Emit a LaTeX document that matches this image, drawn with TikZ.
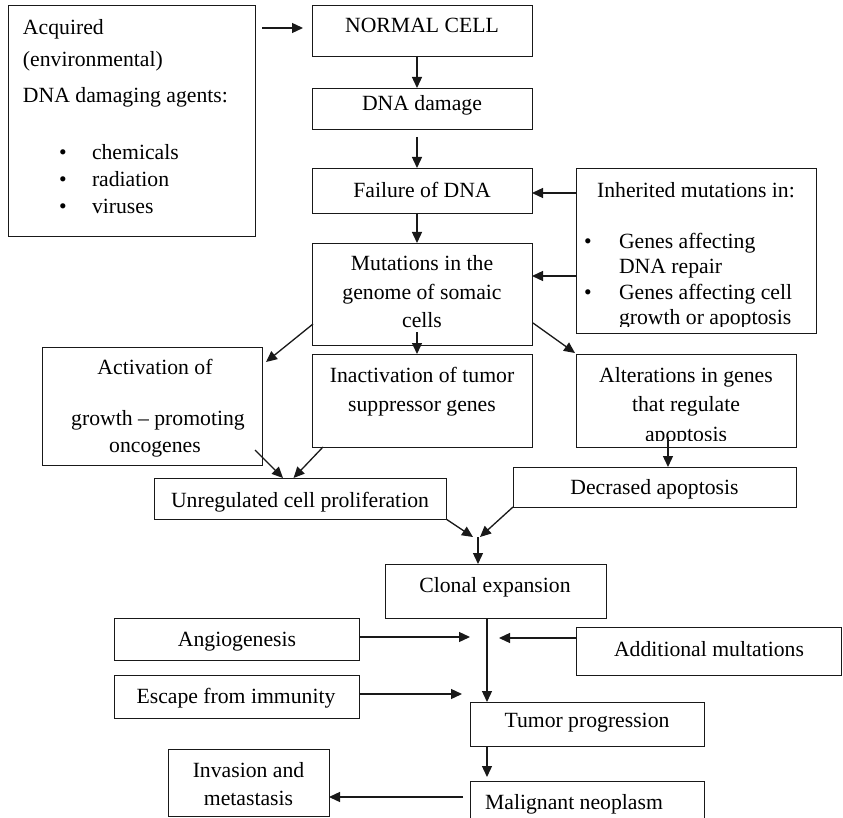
\documentclass[tikz,border=0pt]{standalone}
\usepackage{fontspec}
\setmainfont{Liberation Serif}
\usetikzlibrary{arrows.meta,calc}
\newcommand\bx[5]{\node[box, minimum width={(#4-#2)*1pt}, minimum height={(#5-#3)*1pt}] (#1) at (#2,#3) {};}
\begin{document}
\begin{tikzpicture}[x=1pt,y=-1pt,
  box/.style={draw=black!90, line width=0.9pt, inner sep=0pt, outer sep=0pt, anchor=north west},
  txt/.style={inner sep=0pt, outer sep=0pt, anchor=base, font=\fontsize{21.7}{26}\selectfont, text=black},
  ltxt/.style={txt, anchor=base west},
  arr/.style={line width=1.3pt, draw=black!90, -{Triangle[length=11pt,width=10pt]}}]
\clip (0,0) rectangle (843,818);
\fill[white] (0,0) rectangle (843,818);

% boxes
\bx{acq}{8}{5}{255}{236}
\bx{normal}{312}{5}{532}{56}
\bx{dna}{312}{88}{532}{129}
\bx{fail}{312}{168}{532}{213}
\bx{inh}{576}{168}{816}{333}
\bx{mut}{312}{243}{532}{345}
\bx{act}{42}{347}{262}{465}
\bx{inact}{312}{354}{532}{447}
\bx{alt}{576}{354}{796}{447}
\bx{unreg}{154}{478}{446}{519}
\bx{dec}{513}{467}{796}{507}
\bx{clonal}{385}{564}{606}{618}
\bx{angio}{114}{618}{359}{660}
\bx{addl}{576}{627}{841}{675}
\bx{escape}{114}{675}{359}{718}
\bx{tumor}{470}{702}{704}{746}
\bx{inv}{168}{749}{329}{816}
\bx{malig}{470}{781}{704}{840}

% texts
\node[ltxt] (acq1) at (23,35) {Acquired};
\node[ltxt] (acq2) at (23,67) {(environmental)};
\node[ltxt] (acq3) at (23,103) {DNA damaging agents:};
\node[txt] (acqb1) at (63,160) {•};
\node[txt] (acqb2) at (63,187) {•};
\node[txt] (acqb3) at (63,214) {•};
\node[ltxt] (acq4) at (92,160) {chemicals};
\node[ltxt] (acq5) at (92,187) {radiation};
\node[ltxt] (acq6) at (92,214) {viruses};

\node[txt] (tnormal) at (422,33) {NORMAL CELL};
\node[txt] (tdna) at (422,111) {DNA damage};
\node[txt] (tfail) at (422,198) {Failure of DNA};

\node[txt] (tinh) at (696,198) {Inherited mutations in:};
\node[txt] (inhb1) at (588,249) {•};
\node[txt] (inhb2) at (588,300) {•};
\node[ltxt] (inh1) at (619,249) {Genes affecting};
\node[ltxt] (inh2) at (619,273) {DNA repair};
\node[ltxt] (inh3) at (619,300) {Genes affecting cell};
\begin{scope}
\clip (576,300) rectangle (816,326);
\node[ltxt] (inh4) at (619,324) {growth or apoptosis};
\end{scope}

\node[txt] (mut1) at (422,271) {Mutations in the};
\node[txt] (mut2) at (422,299) {genome of somaic};
\node[txt] (mut3) at (422,327) {cells};

\node[txt] (act1) at (155,374) {Activation of};
\node[txt] (act2) at (158,425) {growth – promoting};
\node[txt] (act3) at (155,452) {oncogenes};

\node[txt] (inact1) at (422,382) {Inactivation of tumor};
\node[txt] (inact2) at (422,411) {suppressor genes};

\node[txt] (alt1) at (686,382) {Alterations in genes};
\node[txt] (alt2) at (686,411) {that regulate};
\begin{scope}
\clip (576,415) rectangle (796,440.5);
\node[txt] (alt3) at (686,441) {apoptosis};
\end{scope}

\node[txt] (tunreg) at (300,507) {Unregulated cell proliferation};
\node[txt] (tdec) at (654.5,494) {Decrased apoptosis};
\node[txt] (tclonal) at (495,592) {Clonal expansion};
\node[txt] (tangio) at (237,646) {Angiogenesis};
\node[txt] (tescape) at (236,703) {Escape from immunity};
\node[txt] (taddl) at (709,656) {Additional multations};
\node[txt] (ttumor) at (587,727) {Tumor progression};
\node[txt] (inv1) at (248.5,777) {Invasion and};
\node[txt] (inv2) at (248.5,805) {metastasis};
\node[txt] (tmalig) at (574,809) {Malignant neoplasm};

% connectors
\coordinate (merge) at (478,537);
\draw[arr] ([shift={(7pt,-23pt)}]acq.north east) -- ([shift={(-9pt,-23pt)}]normal.north west);
\draw[arr] ([xshift=-5pt]normal.south) -- ([xshift=-5pt]dna.north);
\draw[arr] ([xshift=-5pt,yshift=-8pt]dna.south) -- ([xshift=-5pt]fail.north);
\draw[arr] ([xshift=-5pt]fail.south) -- ([xshift=-5pt]mut.north);
\draw[arr] ([yshift=-25pt]inh.north west) -- ([yshift=-25pt]inh.north west -| fail.east);
\draw[arr] ([yshift=-108pt]inh.north west) -- ([yshift=-108pt]inh.north west -| mut.east);
\draw[arr] ([shift={(1pt,21pt)}]mut.south west) -- ([shift={(4pt,-15pt)}]act.north east);
\draw[arr] ([shift={(-5pt,13pt)}]mut.south) -- ([xshift=-5pt]inact.north);
\draw[arr] ([shift={(1pt,22pt)}]mut.south east) -- ([shift={(-1pt,1pt)}]alt.north west);
\draw[arr] ([shift={(-7pt,15pt)}]act.south east) -- ([xshift=129pt]unreg.north west);
\draw[arr] ([xshift=11pt]inact.south west) -- ([xshift=-6.5pt]unreg.north);
\draw[arr] ([shift={(-18pt,10pt)}]alt.south) -- ([xshift=-18pt]alt.south |- dec.north);
\draw[arr] (unreg.south east) -- ([xshift=-5pt]merge);
\draw[arr] (dec.south west) -- ([xshift=2pt]merge);
\draw[arr] (merge) -- (merge |- clonal.north);
\draw[arr] ([xshift=-8.5pt]clonal.south) -- ([xshift=-8.5pt]clonal.south |- tumor.north);
\draw[arr] ([yshift=2pt]angio.east) -- ([shift={(111pt,2pt)}]angio.east);
\draw[arr] ([yshift=2.5pt]escape.east) -- ([shift={(103pt,2.5pt)}]escape.east);
\draw[arr] ([yshift=13pt]addl.west) -- ([shift={(-77pt,13pt)}]addl.west);
\draw[arr] ([xshift=-100pt]tumor.south) -- ([shift={(-100pt,4pt)}]malig.north);
\draw[arr] ([shift={(-7pt,-16pt)}]malig.north west) -- ([yshift=-14.5pt]inv.east);
\end{tikzpicture}
\end{document}
